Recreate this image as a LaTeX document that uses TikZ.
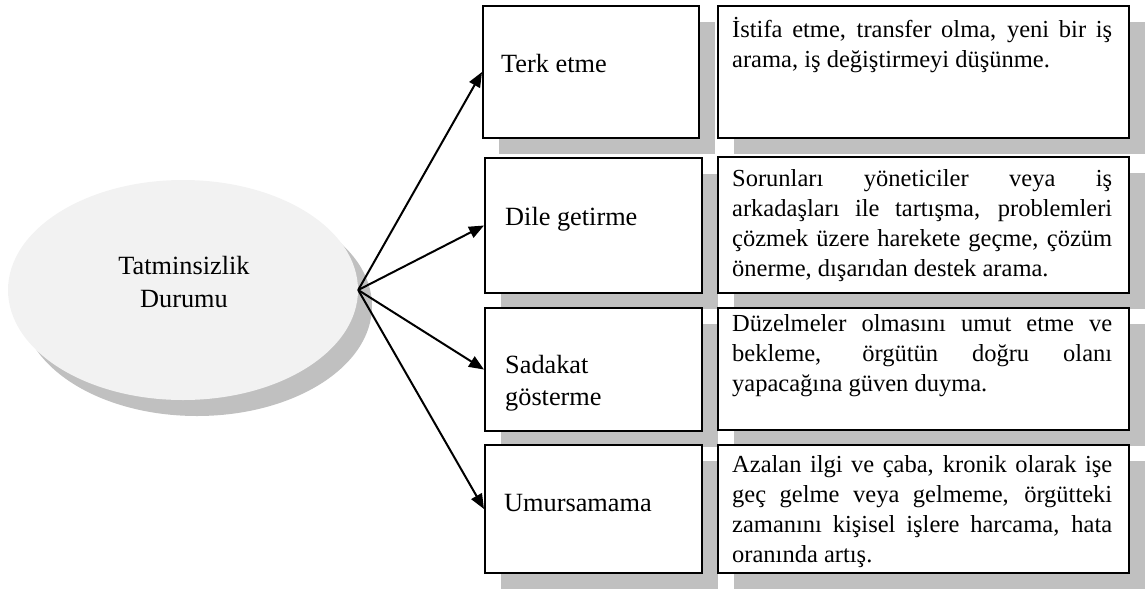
\documentclass[tikz,border=0pt]{standalone}
\usepackage{fontspec}
\setmainfont{Liberation Serif}
\usetikzlibrary{arrows.meta,shapes.geometric,shadows,calc}
\definecolor{shadegray}{HTML}{C0C0C0}
\definecolor{ovalfill}{HTML}{F2F2F2}
\newcommand\tstrut{\rule{0pt}{22pt}}
\newcommand\nobreakwords{\hyphenpenalty=10000\relax\exhyphenpenalty=10000\relax\tolerance=10000\relax}
\begin{document}
\begin{tikzpicture}[x=1pt,y=-1pt,
  txt/.style={font=\fontsize{24.5}{30}\selectfont\nobreakwords,
    inner sep=0pt, anchor=north west},
  lbl/.style={txt, align=left, font=\fontsize{26.3}{32}\selectfont},
  card/.style={draw=black, line width=2pt, fill=white, inner sep=0pt,
    drop shadow={shadow xshift=16pt, shadow yshift=-16pt, fill=shadegray, opacity=1}},
  oval/.style={ellipse, draw=none, fill=ovalfill, inner sep=0pt,
    minimum width=350pt, minimum height=220pt,
    drop shadow={shadow xshift=14pt, shadow yshift=-16pt, fill=shadegray, opacity=1}},
  desc/.style={txt, text width=380pt, align=justify},
  conn/.style={line width=2pt, -{Triangle[length=15pt,width=12pt]}}]
\useasboundingbox (0,0) rectangle (1148,590);

% central oval
\node[oval] (durum) at (183,290) {};
\node[txt, anchor=north, align=center, font=\fontsize{26.3}{33}\selectfont] (durumtxt) at (184,252)
  {\tstrut Tatminsizlik\\Durumu};

% reaction boxes
\node[card, minimum width=216pt, minimum height=132pt] (terk) at (591,72) {};
\node[card, minimum width=217pt, minimum height=135pt] (dile) at (593.5,225.5) {};
\node[card, minimum width=217pt, minimum height=123pt] (sadakat) at (593.5,369.5) {};
\node[card, minimum width=217pt, minimum height=128pt] (umursama) at (593.5,509) {};

% description boxes
\node[card, minimum width=411pt, minimum height=132pt] (d1) at (923.5,72) {};
\node[card, minimum width=411pt, minimum height=136pt] (d2) at (923.5,225) {};
\node[card, minimum width=411pt, minimum height=122pt] (d3) at (923.5,369) {};
\node[card, minimum width=411pt, minimum height=128pt] (d4) at (923.5,509) {};

% labels
\node[lbl] (terkt) at ($(terk.north west)+(19,45)$) {\tstrut Terk etme};
\node[lbl] (dilet) at ($(dile.north west)+(21,46)$) {\tstrut Dile getirme};
\node[lbl] (sadakatt) at ($(sadakat.north west)+(21,44)$) {\tstrut Sadakat\\gösterme};
\node[lbl] (umursamat) at ($(umursama.north west)+(20,45)$) {\tstrut Umursamama};

% descriptions
\node[desc] (d1t) at ($(d1.north west)+(15,10)$)
  {\tstrut İstifa etme, transfer olma, yeni bir iş\linebreak arama, iş değiştirmeyi düşünme.};
\node[desc] (d2t) at ($(d2.north west)+(15,8)$)
  {\tstrut Sorunları yöneticiler veya iş\linebreak arkadaşları ile tartışma, problemleri\linebreak çözmek üzere harekete geçme, çözüm\linebreak önerme, dışarıdan destek arama.};
\node[desc] (d3t) at ($(d3.north west)+(15,2)$)
  {\tstrut Düzelmeler olmasını umut etme ve\linebreak bekleme, örgütün doğru olanı\linebreak yapacağına güven duyma.};
\node[desc] (d4t) at ($(d4.north west)+(15,6)$)
  {\tstrut Azalan ilgi ve çaba, kronik olarak işe\linebreak geç gelme veya gelmeme, örgütteki\linebreak zamanını kişisel işlere harcama, hata\linebreak oranında artış.};

% connectors
\draw[conn] (durum.east) -- (terk.west);
\draw[conn] (durum.east) -- (dile.west);
\draw[conn] (durum.east) -- (sadakat.west);
\draw[conn] (durum.east) -- (umursama.west);
\end{tikzpicture}
\end{document}
